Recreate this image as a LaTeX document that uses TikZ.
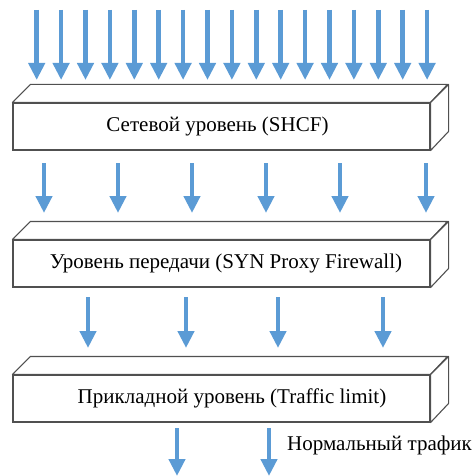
\documentclass[tikz,border=0pt]{standalone}
\usepackage{fontspec}
\setmainfont{Liberation Serif}
\usetikzlibrary{arrows.meta}
\definecolor{arrowblue}{HTML}{5B9BD5}
\definecolor{edgegray}{HTML}{505050}
\newcommand{\layerbox}[4]{%
  \node[layer] (#1) at (221.5,#2) {};
  \draw[side] (#1.north west) -- ++(18,-18) -- ++(417,0) -- (#1.north east) -- cycle;
  \draw[side] (#1.north east) -- ++(18,-18) -- ++(0,47) -- (#1.south east) -- cycle;
  \node[lbl] (#1text) at (#3,#2) {#4};
}
\begin{document}
\begin{tikzpicture}[x=1pt,y=-1pt,
  flow/.style={draw=arrowblue,line width=4.5pt,-{Triangle[width=16pt,length=17pt]}},
  layer/.style={draw=edgegray,line width=1.1pt,fill=white,minimum width=417pt,minimum height=47pt,inner sep=0pt},
  side/.style={draw=edgegray,line width=1.1pt,fill=white,line join=round},
  lbl/.style={inner sep=0pt,font=\fontsize{21}{24}\selectfont}]
\useasboundingbox (0,0) rectangle (475,476);
% top arrows
\foreach \i in {0,...,16}{
  \coordinate (t\i) at ({36.7+24.4*\i},10);
  \coordinate (u\i) at ({36.7+24.4*\i},80);
  \draw[flow] (t\i) -- (u\i);
}
\layerbox{net}{126.5}{217.5}{Сетевой уровень (SHCF)}
% second arrows
\foreach \x [count=\i] in {44,118,192,266,340,426}{
  \coordinate (a\i) at (\x,163);
  \coordinate (b\i) at (\x,213);
  \draw[flow] (a\i) -- (b\i);
}
\layerbox{trans}{263.5}{226}{Уровень передачи (SYN Proxy Firewall)}
% third arrows
\foreach \x [count=\i] in {88,186,278,383}{
  \coordinate (c\i) at (\x,297);
  \coordinate (d\i) at (\x,348);
  \draw[flow] (c\i) -- (d\i);
}
\layerbox{app}{398.5}{232}{Прикладной уровень (Traffic limit)}
% output arrows
\foreach \x [count=\i] in {177,269}{
  \coordinate (e\i) at (\x,428);
  \coordinate (f\i) at (\x,476);
  \draw[flow] (e\i) -- (f\i);
}
\node[lbl,anchor=west] (normal) at (287,445) {Нормальный трафик};
\end{tikzpicture}
\end{document}
